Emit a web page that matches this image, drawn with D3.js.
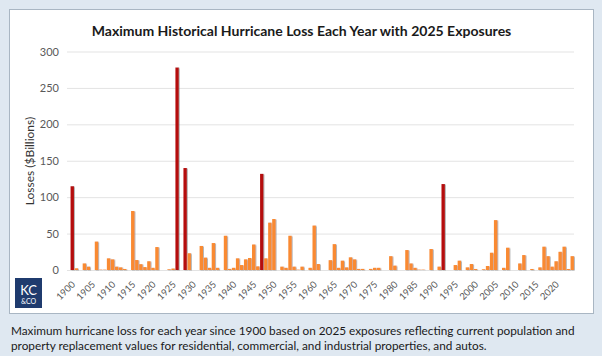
<!DOCTYPE html>
<html>
<head>
<meta charset="utf-8">
<script src="https://cdn.jsdelivr.net/npm/d3@7"></script>
<style>
  html, body { margin: 0; padding: 0; background: #DFE8F1; }
  svg { display: block; }
</style>
</head>
<body>
<svg id="chart" width="602" height="356"></svg>
<script>
// ---- data ----
const title = "Maximum Historical Hurricane Loss Each Year with 2025 Exposures";
const yAxisLabel = "Losses ($Billions)";
const captionLines = [
  "Maximum hurricane loss for each year since 1900 based on 2025 exposures reflecting current population and",
  "property replacement values for residential, commercial, and industrial properties, and autos."
];
const years = d3.range(1900, 2025);
const losses = [
  115, 2.3, 0, 9, 4.6, 0, 39, 0.5, 0.5, 16,          // 1900-1909
  14.6, 4.6, 3.6, 1.4, 0, 81, 13.7, 8, 4, 12,         // 1910-1919
  3, 31.5, 0, 0, 1, 2, 278, 0, 140, 23,               // 1920-1929
  0, 0, 33, 17, 3, 37, 3, 0, 47, 1.5,                 // 1930-1939
  3, 16, 6.8, 14.6, 16.5, 35, 5, 132, 16, 65,         // 1940-1949
  70, 0, 4.6, 3, 47, 4.6, 0.5, 4.6, 0, 3,             // 1950-1959
  61, 8.2, 0, 0, 13.5, 35.5, 3, 12.8, 3.6, 17.4,      // 1960-1969
  14.6, 1.5, 1.5, 0, 1.5, 3, 3, 0, 0, 19,             // 1970-1979
  6, 0, 0, 27.4, 9, 3, 0.5, 0.5, 0, 28.8,             // 1980-1989
  0, 4.6, 118, 0, 0, 6.8, 12.8, 0, 3.6, 8.2,          // 1990-1999
  1.4, 0, 1, 5.5, 23.7, 68.5, 0, 3, 30.6, 0,          // 2000-2009
  0, 9, 20.5, 0, 1.4, 0, 3.6, 32, 19, 4.6,            // 2010-2019
  12, 25, 32, 1.4, 19                                 // 2020-2024
];
const yTicks = [0, 50, 100, 150, 200, 250, 300];
const xTickYears = d3.range(1900, 2021, 5);
const majorThreshold = 100;

// ---- layout ----
const svg = d3.select("#chart");
const plot = { left: 70.5, right: 574, top: 51.5, bottom: 270 };
const colors = { major: "#B50D0D", minor: "#F98A33", grid: "#E3E3E3", text: "#595959" };
const FONT = "Lato, 'Open Sans', sans-serif";

const defs = svg.append("defs");
const f = defs.append("filter").attr("id", "shadow").attr("x", "-50%").attr("y", "-5%").attr("width", "250%").attr("height", "115%");
f.append("feDropShadow").attr("dx", 1).attr("dy", 0.5).attr("stdDeviation", 0.45)
  .attr("flood-color", "#7a7a7a").attr("flood-opacity", 0.55);

// panel
svg.append("rect").attr("x", 9.5).attr("y", 9.5).attr("width", 584).attr("height", 304)
  .attr("fill", "#ffffff").attr("stroke", "#A9B6C3").attr("stroke-width", 1);

// helper: fit a text's font-size so its width matches a target
function fitWidth(sel, target, maxSize) {
  sel.each(function () {
    const node = d3.select(this);
    node.attr("font-size", 20);
    const w = this.getComputedTextLength();
    const size = Math.min(maxSize, 20 * target / w);
    node.attr("font-size", size.toFixed(2));
  });
}

// title
const t = svg.append("text").attr("x", 301.5).attr("y", 36)
  .attr("text-anchor", "middle").attr("font-family", FONT)
  .attr("font-weight", "bold").attr("fill", "#1a1a1a").text(title);
fitWidth(t, 420, 16);

// scales
const x = d3.scaleBand().domain(years).range([plot.left, plot.right]).paddingInner(0.16).paddingOuter(0.02);
const y = d3.scaleLinear().domain([0, 300]).range([plot.bottom, plot.top]);

// grid
svg.append("g").selectAll("line").data(yTicks).join("line")
  .attr("x1", 67).attr("x2", 574)
  .attr("y1", d => y(d) + 0.5).attr("y2", d => y(d) + 0.5)
  .attr("stroke", colors.grid).attr("stroke-width", 1);

// y axis (labels only)
const yAxis = d3.axisLeft(y).tickValues(yTicks).tickSize(0).tickPadding(0);
const yg = svg.append("g").attr("transform", "translate(59,0)").call(yAxis);
yg.select(".domain").remove();
yg.selectAll("text").attr("font-family", FONT).attr("font-size", 11)
  .attr("fill", colors.text);

// y label
svg.append("text").attr("transform", "translate(34,161) rotate(-90)")
  .attr("text-anchor", "middle").attr("font-family", FONT)
  .attr("font-size", 12).attr("fill", "#333").text(yAxisLabel);

// bars
svg.append("g").attr("filter", "url(#shadow)").selectAll("rect")
  .data(years.map((yr, i) => ({ year: yr, v: losses[i] })))
  .join("rect")
  .attr("x", d => x(d.year))
  .attr("width", x.bandwidth())
  .attr("y", d => y(d.v))
  .attr("height", d => y(0) - y(d.v))
  .attr("fill", d => d.v >= majorThreshold ? colors.major : colors.minor);

// x axis labels
const xAxis = d3.axisBottom(x).tickValues(xTickYears).tickSize(0).tickPadding(0);
const xg = svg.append("g").call(xAxis);
xg.select(".domain").remove();
xg.selectAll(".tick").attr("transform", d => `translate(${x(d) + x.bandwidth() / 2 + 1.5},283)`);
xg.selectAll(".tick text")
  .attr("y", 0).attr("dy", "0.3em").attr("x", 0)
  .attr("transform", "rotate(-45)")
  .attr("text-anchor", "end")
  .attr("font-family", FONT).attr("font-size", 9.5)
  .attr("fill", colors.text);

// logo
const logo = svg.append("g");
logo.append("rect").attr("x", 15).attr("y", 278).attr("width", 27).attr("height", 30).attr("fill", "#1F3B6E");
logo.append("text").attr("x", 28.5).attr("y", 295).attr("text-anchor", "middle")
  .attr("font-family", FONT).attr("font-size", 13).attr("fill", "#fff").text("KC");
logo.append("text").attr("x", 28.5).attr("y", 304).attr("text-anchor", "middle")
  .attr("font-family", FONT).attr("font-size", 7).attr("fill", "#fff").text("&CO");

// caption
const cap = svg.append("g").selectAll("text").data(captionLines).join("text")
  .attr("x", 11).attr("y", (d, i) => 335 + i * 14.5)
  .attr("font-family", FONT)
  .attr("fill", "#1a1a1a")
  .text(d => d);
// fit first line to its width, use same size for second
cap.filter((d, i) => i === 0).call(s => fitWidth(s, 564, 13.5));
const capSize = cap.filter((d, i) => i === 0).attr("font-size");
cap.attr("font-size", capSize);
</script>
</body>
</html>
